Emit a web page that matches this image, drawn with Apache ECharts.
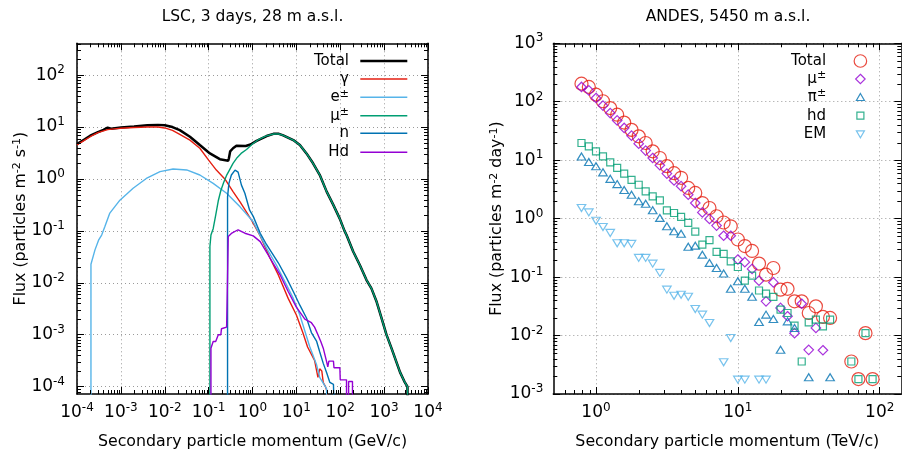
<!DOCTYPE html>
<html><head><meta charset="utf-8">
<script src="https://cdn.jsdelivr.net/npm/echarts@6/dist/echarts.min.js"></script>
<style>html,body{margin:0;padding:0;background:#fff}#c{width:902px;height:453px}</style>
</head><body><div id="c"></div>
<script>
// ---------------- LSC (left panel) : momentum (GeV/c) vs flux ----------------
const lscTotal = [[1e-4,4.7],[1.5e-4,5.8],[2e-4,6.8],[3e-4,8.0],[4e-4,8.8],[5e-4,9.7],[6e-4,9.3],[1e-3,9.8],[2e-3,10.2],[4e-3,10.8],[7e-3,11.0],[0.01,10.8],[0.015,10.0],[0.022,8.7],[0.0375,6.5],[0.063,4.5],[0.107,3.1],[0.18,2.4],[0.28,2.25],[0.29,2.5],[0.31,3.4],[0.36,3.9],[0.43,4.35],[0.7,4.3],[0.9,4.6],[1.24,5.4],[2.1,6.7],[3.0,7.4],[4.0,7.4],[5.0,6.9],[8.5,5.6],[12,4.5],[17,3.1],[24,2.0],[34,1.2],[49,0.57],[69,0.32],[98,0.17],[125,0.1],[139,0.083],[197,0.04],[279,0.022],[397,0.0113],[513,7.8e-3],[675,4.3e-3],[870,2.1e-3],[1130,1.0e-3],[1470,5.5e-4],[1900,3.0e-4],[2300,1.9e-4],[2900,1.25e-4],[3400,1.0e-4],[3500,1e-5]];
const lscGamma = [[1e-4,4.5],[1.5e-4,5.6],[2e-4,6.5],[3e-4,7.8],[5e-4,8.9],[7e-4,9.2],[1e-3,9.5],[2e-3,9.8],[4e-3,10.0],[7e-3,10.0],[0.01,9.6],[0.015,8.6],[0.022,7.2],[0.0375,5.6],[0.063,3.9],[0.1,2.3],[0.15,1.48],[0.234,1.0],[0.36,0.57],[0.52,0.36],[0.73,0.23],[0.95,0.16],[1.5,0.08],[2.5,0.03],[3.9,0.014],[6.5,5e-3],[10,2.4e-3],[14,1.1e-3],[18,5.8e-4],[26,3.2e-4],[31,1.5e-4],[34,2.2e-4],[38,2.0e-4],[41,1.2e-4],[46,1.0e-4],[50,8e-5],[52,1e-5]];
const lscElectron = [[2.08e-4,1e-5],[2.08e-4,0.0227],[2.57e-4,0.043],[3.1e-4,0.066],[3.65e-4,0.083],[4.3e-4,0.12],[5.6e-4,0.22],[9.5e-4,0.39],[1.9e-3,0.66],[3.8e-3,1.02],[7.8e-3,1.38],[0.0155,1.55],[0.0316,1.49],[0.063,1.19],[0.127,0.82],[0.257,0.53],[0.52,0.29],[1.04,0.15],[2.1,0.046],[3.5,0.022],[6,9e-3],[8.5,5e-3],[12,2.4e-3],[20,6e-4],[29,2.6e-4],[34,1.5e-4],[40,1.2e-4],[49,9e-5],[49,1e-5]];
const lscMuon = [[0.107,1e-5],[0.107,0.05],[0.113,0.083],[0.127,0.11],[0.145,0.2],[0.166,0.38],[0.19,0.6],[0.22,0.85],[0.26,1.2],[0.3,1.5],[0.36,2.0],[0.45,2.6],[0.55,3.1],[0.73,3.7],[1.0,4.7],[1.4,5.8],[2.0,6.7],[3.0,7.35],[4.0,7.35],[5.0,6.9],[8.5,5.6],[12,4.5],[17,3.1],[24,2.0],[34,1.2],[49,0.57],[69,0.32],[98,0.17],[125,0.1],[139,0.083],[197,0.04],[279,0.022],[397,0.0113],[513,7.8e-3],[675,4.3e-3],[870,2.1e-3],[1130,1.0e-3],[1470,5.5e-4],[1900,3.0e-4],[2300,1.9e-4],[2900,1.25e-4],[3400,1.0e-4],[3500,1e-5]];
const lscNeutron = [[0.27,1e-5],[0.27,0.45],[0.29,0.82],[0.33,1.19],[0.40,1.48],[0.47,1.35],[0.56,0.76],[0.67,0.53],[0.86,0.25],[1.04,0.19],[1.5,0.09],[2.1,0.054],[3.9,0.024],[6,0.0123],[8.5,6.8e-3],[12,3.7e-3],[17,2.1e-3],[22,1.1e-3],[29,7.4e-4],[34,4.7e-4],[41,2.8e-4],[49,1.85e-4],[58,1.2e-4],[70,1.1e-4],[76,1.1e-4],[76,1e-5]];
const lscHadron = [[0.113,1e-5],[0.113,5.5e-4],[0.12,5.5e-4],[0.127,7.4e-4],[0.145,7.4e-4],[0.166,1e-3],[0.19,1e-3],[0.196,1.3e-3],[0.257,1.4e-3],[0.27,1.4e-3],[0.27,0.013],[0.28,0.013],[0.28,0.078],[0.33,0.089],[0.47,0.105],[0.67,0.09],[1.04,0.08],[1.5,0.062],[2.5,0.03],[4.3,0.014],[6.5,6.8e-3],[10,3.4e-3],[15.6,2.0e-3],[22,1.7e-3],[26,1.4e-3],[31,1e-3],[36,7.4e-4],[41,5.5e-4],[49,3e-4],[52,2.4e-4],[55,3.1e-4],[70,3.1e-4],[72,2.3e-4],[98,2.3e-4],[100,1.35e-4],[139,1.35e-4],[139,1e-5],[155,1e-5],[155,1.25e-4],[190,1.25e-4],[190,1e-5]];
const lscXTicks = [1e-4,1e-3,1e-2,1e-1,1,10,100,1000,10000];
const lscYTicks = [1e-4,1e-3,1e-2,1e-1,1,10,100];

// ---------------- ANDES (right panel) : momentum (TeV/c) vs flux ----------------
const andesMomentum = [0.79,0.89,1.00,1.12,1.26,1.41,1.58,1.78,2.00,2.24,2.51,2.82,3.16,3.55,3.98,4.47,5.01,5.62,6.31,7.08,7.94,8.91,10.0,11.2,12.6,14.1,15.8,17.8,20.0,22.4,25.1,28.2,31.6,35.5,39.8,44.7,50.1,56.2,63.1,70.8,79.4,89.1];
const andesTotal = [204,179,132,102,78,60,44,33,25.6,19.7,14.2,10.9,7.9,6.0,5.0,3.35,2.75,1.85,1.52,1.1,0.86,0.74,0.44,0.34,0.28,0.17,0.11,0.143,0.061,0.063,0.0385,0.0385,0.0243,0.0316,0.0208,0.02,null,null,3.6e-3,1.8e-3,0.011,1.8e-3];
const andesMuon = [179,157,116,86,64,48,35.6,26.3,19.2,14.6,10.9,8.2,5.9,4.5,3.6,2.57,1.85,1.28,0.99,0.76,0.51,0.51,0.2,0.18,0.138,0.087,0.0385,0.081,0.0297,0.0214,0.011,0.035,5.7e-3,0.0135,5.6e-3,null,null,null,null,null,null,null];
const andesPion = [11.6,9.3,7.9,6.2,4.8,3.9,3.1,2.57,1.98,1.8,1.39,1.03,0.74,0.61,0.55,0.33,0.345,0.242,0.175,0.143,0.115,0.063,0.085,0.063,0.046,0.017,0.0228,0.0192,5.7e-3,0.0175,0.0135,null,1.93e-3,null,null,1.93e-3,null,null,null,null,null,null];
const andesHadron = [19.7,17.3,14.2,11.6,9.2,7.4,5.9,4.6,3.8,2.93,2.41,2.06,1.39,1.25,1.07,0.85,0.6,0.36,0.43,0.27,0.25,0.186,0.149,0.087,0.106,0.059,0.052,0.046,0.0277,0.0243,0.0148,3.6e-3,0.0168,0.0187,0.0144,0.0187,null,null,3.6e-3,1.8e-3,0.011,1.8e-3];
const andesEM = [1.52,1.28,0.92,0.72,0.57,0.38,0.38,0.37,0.213,0.213,0.17,0.118,0.061,0.048,0.05,0.046,0.0285,0.0228,0.0164,null,3.5e-3,9.1e-3,1.76e-3,1.76e-3,null,1.76e-3,1.76e-3,null,null,null,null,null,null,null,null,null,null,null,null,null,null,null];
const andesXTicks = [1,10,100];
const andesYTicks = [1e-3,1e-2,1e-1,1,10,100,1000];

// ---------------- styling / helpers ----------------
const F = 'DejaVu Sans';
const C = {red:'#e51e10', lblue:'#56b4e9', green:'#009e73', blue:'#0072b2', purple:'#9400d3', black:'#000'};
const tickRich = {
  b:{fontFamily:F, fontSize:17, lineHeight:22, color:'#000'},
  s:{fontFamily:F, fontSize:12, lineHeight:12, verticalAlign:'top', color:'#000'}
};
function decadeLabel(v){
  const e = Math.log10(v), r = Math.round(e);
  if (Math.abs(e - r) > 1e-6) return '';
  return '{b|10}{s|' + r + '}';
}
function pair(xs, ys){ const out=[]; xs.forEach((x,i)=>{ if (ys[i]!==null) out.push([x, ys[i]]); }); return out; }
function minorVals(lo, hi){
  const out=[];
  for (let e=Math.floor(Math.log10(lo)); e<=Math.ceil(Math.log10(hi)); e++)
    for (let m=2; m<=9; m++){ const v=m*Math.pow(10,e); if (v>lo*1.0001 && v<hi*0.9999) out.push(v); }
  return out;
}
const frameLine = {show:true, lineStyle:{color:'#000', width:1.5}};
const gridSplit = {show:true, lineStyle:{color:'#9a9a9a', width:1, type:[1,3]}};
const nameRich = {
  n:{fontFamily:F, fontSize:15.8, lineHeight:18, color:'#000'},
  s:{fontFamily:F, fontSize:11, lineHeight:11, verticalAlign:'top', color:'#000'}
};

function axesFor(grid, xr, yr, xTicks, yTicks, xName, yName, ylabMargin){
  const xs = [
    {type:'log', gridIndex:grid, min:xr[0], max:xr[1], position:'bottom', axisLine:frameLine,
     axisTick:{show:true, inside:true, length:7, customValues:xTicks, lineStyle:{color:'#000', width:1}},
     axisLabel:{show:true, customValues:xTicks, formatter:decadeLabel, margin:8, rich:tickRich},
     splitLine:gridSplit, minorTick:{show:false},
     name:xName, nameLocation:'middle', nameGap:40, nameMoveOverlap:false,
     nameTextStyle:{fontFamily:F, fontSize:15.8, color:'#000'}},
    {type:'log', gridIndex:grid, min:xr[0], max:xr[1], position:'top', axisLine:frameLine,
     axisTick:{show:true, inside:true, length:7, customValues:xTicks, lineStyle:{color:'#000', width:1}},
     axisLabel:{show:false}, splitLine:{show:false}}
  ];
  const ys = [
    {type:'log', gridIndex:grid, min:yr[0], max:yr[1], position:'left', axisLine:frameLine,
     axisTick:{show:true, inside:true, length:7, customValues:yTicks, lineStyle:{color:'#000', width:1}},
     axisLabel:{show:true, customValues:yTicks, formatter:decadeLabel, margin:ylabMargin, rich:tickRich},
     splitLine:gridSplit, minorTick:{show:false},
     name:yName, nameLocation:'middle', nameGap:47, nameRotate:90, nameMoveOverlap:false,
     nameTextStyle:{fontFamily:F, fontSize:15.8, color:'#000', rich:nameRich}},
    {type:'log', gridIndex:grid, min:yr[0], max:yr[1], position:'right', axisLine:frameLine,
     axisTick:{show:true, inside:true, length:7, customValues:yTicks, lineStyle:{color:'#000', width:1}},
     axisLabel:{show:false}, splitLine:{show:false}}
  ];
  return {xs, ys};
}

function minorTickSeries(xi, yi, xr, yr){
  const data = minorVals(xr[0], xr[1]).map(v=>[0, v, 1]).concat(minorVals(yr[0], yr[1]).map(v=>[1, 1, v]));
  return {
    type:'custom', xAxisIndex:xi, yAxisIndex:yi, silent:true, z:10, data,
    encode:{x:1, y:2},
    renderItem(params, api){
      const cs = params.coordSys, L = 4;
      const st = {stroke:'#000', lineWidth:1};
      const p = api.coord([api.value(1), api.value(2)]);
      if (api.value(0) === 0){
        const x = Math.round(p[0]) + 0.5, yb = cs.y + cs.height, yt = cs.y;
        return {type:'group', children:[
          {type:'line', shape:{x1:x, y1:yb, x2:x, y2:yb-L}, style:st},
          {type:'line', shape:{x1:x, y1:yt, x2:x, y2:yt+L}, style:st}]};
      }
      const y = Math.round(p[1]) + 0.5, xl = cs.x, xr2 = cs.x + cs.width;
      return {type:'group', children:[
        {type:'line', shape:{x1:xl, y1:y, x2:xl+L, y2:y}, style:st},
        {type:'line', shape:{x1:xr2, y1:y, x2:xr2-L, y2:y}, style:st}]};
    }
  };
}

const lscXR = [1e-4, 1e4], lscYR = [7.2e-5, 410];
const anXR = [0.5, 142], anYR = [1e-3, 1e3];
const A = axesFor(0, lscXR, lscYR, lscXTicks, lscYTicks, 'Secondary particle momentum (GeV/c)',
  '{n|Flux (particles m}{s|-2}{n| s}{s|-1}{n|)}', 12);
const B = axesFor(1, anXR, anYR, andesXTicks, andesYTicks, 'Secondary particle momentum (TeV/c)',
  '{n|Flux (particles m}{s|-2}{n| day}{s|-1}{n|)}', 10);

const labelMap = {
  'Total':'Total', 'γ':'γ', 'e±':'{b|e}{s|±}', 'μ±':'{b|μ}{s|±}', 'n':'n', 'Hd':'Hd',
  'μ± ':'{b|μ}{s|±}', 'π±':'{b|π}{s|±}', 'hd':'hd', 'EM':'EM', 'Total ':'Total'
};
const legRich = {
  b:{fontFamily:F, fontSize:15, lineHeight:18, color:'#000'},
  s:{fontFamily:F, fontSize:11, lineHeight:11, verticalAlign:'top', color:'#000'}
};
function legendItem(name, cy, iconRight, iconW, iconH, textEnd, itemStyle, icon){
  const gap = (iconRight - iconW) - textEnd - 5;
  const o = {
    data:[name], orient:'vertical', align:'right', padding:0,
    right: 902 - iconRight, top: cy - 9,
    itemWidth:iconW, itemHeight:iconH, selectedMode:false,
    formatter: n => labelMap[n],
    itemStyle: itemStyle,
    textStyle:{fontFamily:F, fontSize:15, lineHeight:18, color:'#000', padding:[0, gap, 0, 0], rich:legRich}
  };
  if (icon) o.icon = icon;
  return o;
}
const lineLeg = (name, cy, color, h) => legendItem(name, cy, 407.3, 47, h, 349, {color, borderWidth:0}, 'rect');
const legends = [
  lineLeg('Total', 61, C.black, 2.5),
  lineLeg('γ', 79, C.red, 1.5),
  lineLeg('e±', 97.3, C.lblue, 1.5),
  lineLeg('μ±', 115.7, C.green, 1.5),
  lineLeg('n', 133.3, C.blue, 1.5),
  lineLeg('Hd', 152.3, C.purple, 1.5),
  legendItem('Total ', 61, 861+6.25, 12.5, 12.5, 826.7, {color:'transparent', borderColor:C.red, borderWidth:1.2}),
  legendItem('μ± ', 79, 861+4.75, 9.5, 9.5, 826.7, {color:'transparent', borderColor:C.purple, borderWidth:1.2}),
  legendItem('π±', 97, 861+4, 8, 7, 826.7, {color:'transparent', borderColor:C.blue, borderWidth:1.2}),
  legendItem('hd', 115.7, 861+3.5, 7, 7, 826.7, {color:'transparent', borderColor:C.green, borderWidth:1.2}),
  legendItem('EM', 134.3, 861+4, 8, 7, 826.7, {color:'transparent', borderColor:C.lblue, borderWidth:1.2})
];

function histLine(name, data, color, width){
  return {name, type:'line', xAxisIndex:0, yAxisIndex:0, data, symbol:'none', showSymbol:false,
    lineStyle:{color, width}, itemStyle:{color}, clip:true, z:2};
}
function markers(name, ys, symbol, size, color){
  return {name, type:'scatter', xAxisIndex:2, yAxisIndex:2, data:pair(andesMomentum, ys),
    symbol, symbolSize:size, itemStyle:{color:'transparent', borderColor:color, borderWidth:1.2}, z:3};
}
const downTri = 'path://M0,0L10,0L5,8.5Z';

const option = {
  animation:false,
  backgroundColor:'#fff',
  textStyle:{fontFamily:F},
  title:[
    {text:'LSC, 3 days, 28 m a.s.l.', left:252.5, top:9, textAlign:'center', padding:0,
     textStyle:{fontFamily:F, fontSize:15.5, fontWeight:'normal', color:'#000'}},
    {text:'ANDES, 5450 m a.s.l.', left:728, top:9, textAlign:'center', padding:0,
     textStyle:{fontFamily:F, fontSize:15.5, fontWeight:'normal', color:'#000'}}
  ],
  legend: legends,
  grid:[
    {left:77, top:43.3, width:351, height:350.7, outerBoundsMode:'none', containLabel:false},
    {left:553.3, top:43.3, width:348, height:350.7, outerBoundsMode:'none', containLabel:false}
  ],
  xAxis:[...A.xs, ...B.xs],
  yAxis:[...A.ys, ...B.ys],
  series:[
    histLine('Total', lscTotal, C.black, 2.5),
    histLine('γ', lscGamma, C.red, 1.4),
    histLine('e±', lscElectron, C.lblue, 1.4),
    histLine('μ±', lscMuon, C.green, 1.4),
    histLine('n', lscNeutron, C.blue, 1.4),
    histLine('Hd', lscHadron, C.purple, 1.4),
    minorTickSeries(0, 0, lscXR, lscYR),
    markers('Total ', andesTotal, 'circle', 13, C.red),
    markers('μ± ', andesMuon, 'diamond', 9.5, C.purple),
    markers('π±', andesPion, 'triangle', [8.5,7], C.blue),
    markers('hd', andesHadron, 'rect', 7, C.green),
    markers('EM', andesEM, downTri, [8.5,7], C.lblue),
    minorTickSeries(2, 2, anXR, anYR)
  ]
};
const chart = echarts.init(document.getElementById('c'), null, {renderer:'canvas'});
chart.setOption(option);
</script>
</body></html>
